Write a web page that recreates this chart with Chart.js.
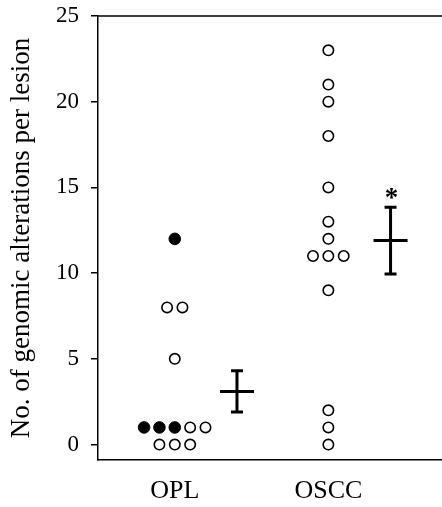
<!DOCTYPE html>
<html>
<head>
<meta charset="utf-8">
<script src="https://cdn.jsdelivr.net/npm/chart.js@4/dist/chart.umd.min.js"></script>
<style>
  body { margin: 0; background: #fff; }
  #wrap { width: 442px; height: 507px; }
</style>
</head>
<body>
<div id="wrap"><canvas id="myChart"></canvas></div>
<script>
const categories = ["OPL", "OSCC"];
const oplOpen = [8, 8, 5, 1, 1, 0, 0, 0];
const oplFilled = [12, 1, 1, 1];
const osccOpen = [23, 21, 20, 18, 15, 13, 12, 11, 11, 11, 9, 2, 1, 0];
const osccFilled = [];
const means = [3.1, 11.9];
const errors = [1.2, 1.95];
const yTicks = [0, 5, 10, 15, 20, 25];

const serif = "'Liberation Serif', 'DejaVu Serif', serif";
const step = 0.1;      // spacing between dots sharing a value
const barOffset = 0.405; // mean +/- error drawn to the right of each column

// spread equal values side by side, filled dots first
function buildPoints(catIndex, filled, open) {
  const items = filled.map(v => ({ v: v, filled: true }))
    .concat(open.map(v => ({ v: v, filled: false })));
  const groups = {};
  items.forEach(it => { (groups[it.v] = groups[it.v] || []).push(it); });
  const res = { filled: [], open: [] };
  Object.keys(groups).forEach(k => {
    const g = groups[k];
    g.forEach((it, i) => {
      const p = { x: catIndex + 1 + (i - (g.length - 1) / 2) * step, y: it.v };
      (it.filled ? res.filled : res.open).push(p);
    });
  });
  return res;
}

const opl = buildPoints(0, oplFilled, oplOpen);
const oscc = buildPoints(1, osccFilled, osccOpen);

const errorBars = {
  id: "errorBars",
  afterDatasetsDraw(chart) {
    const { ctx, scales: { x, y }, chartArea } = chart;
    ctx.save();
    ctx.strokeStyle = "#000";
    ctx.lineWidth = 3;
    means.forEach((m, i) => {
      const px = x.getPixelForValue(i + 1 + barOffset);
      const pm = y.getPixelForValue(m);
      const pt = y.getPixelForValue(m + errors[i]);
      const pb = y.getPixelForValue(m - errors[i]);
      ctx.beginPath();
      ctx.moveTo(px, pt); ctx.lineTo(px, pb);
      ctx.moveTo(px - 6, pt); ctx.lineTo(px + 6, pt);
      ctx.moveTo(px - 6, pb); ctx.lineTo(px + 6, pb);
      ctx.moveTo(px - 17, pm); ctx.lineTo(px + 17, pm);
      ctx.stroke();
      if (i === 1) {
        ctx.fillStyle = "#000";
        ctx.font = "bold 27px " + serif;
        ctx.textAlign = "center";
        ctx.textBaseline = "alphabetic";
        ctx.fillText("*", px + 1, pt - 1);
      }
    });
    // top frame line
    ctx.lineWidth = 1.5;
    ctx.beginPath();
    ctx.moveTo(chartArea.left, chartArea.top);
    ctx.lineTo(chartArea.right, chartArea.top);
    ctx.stroke();
    ctx.restore();
  }
};

new Chart("myChart", {
  type: "scatter",
  data: {
    datasets: [
      {
        data: opl.open.concat(oscc.open),
        pointRadius: 5.2,
        pointBorderWidth: 1.6,
        pointBorderColor: "#000",
        pointBackgroundColor: "#fff",
      },
      {
        data: opl.filled.concat(oscc.filled),
        pointRadius: 5.8,
        pointBorderWidth: 1,
        pointBorderColor: "#000",
        pointBackgroundColor: "#000",
      },
    ],
  },
  options: {
    responsive: true,
    maintainAspectRatio: false,
    animation: false,
    layout: { autoPadding: false, padding: { top: 16, right: 0, left: 0, bottom: 0 } },
    plugins: {
      legend: { display: false },
      tooltip: { enabled: false },
    },
    scales: {
      x: {
        type: "linear",
        min: 0.5,
        max: 2.74,
        afterBuildTicks: s => { s.ticks = categories.map((c, i) => ({ value: i + 1 })); },
        afterFit: s => { s.height = 47; s.paddingLeft = 0; s.paddingRight = 0; },
        grid: { display: false, drawTicks: false },
        border: { display: true, color: "#000", width: 1.5 },
        ticks: {
          color: "#000",
          font: { family: serif, size: 26 },
          padding: 16,
          maxRotation: 0,
          callback: v => categories[Math.round(v) - 1],
        },
      },
      y: {
        min: -0.9,
        max: 25,
        afterBuildTicks: s => { s.ticks = yTicks.map(v => ({ value: v })); },
        afterFit: s => { s.width = 98; s.paddingTop = 0; s.paddingBottom = 0; },
        grid: {
          display: true,
          drawOnChartArea: false,
          drawTicks: true,
          tickLength: 7,
          color: "#000",
          lineWidth: 1.5,
        },
        border: { display: true, color: "#000", width: 1.5 },
        ticks: {
          color: "#000",
          font: { family: serif, size: 23 },
          padding: 12,
        },
        title: {
          display: true,
          text: "No. of genomic alterations per lesion",
          color: "#000",
          font: { family: serif, size: 27 },
          padding: { top: 6, bottom: 0 },
        },
      },
    },
  },
  plugins: [errorBars],
});
</script>
</body>
</html>
